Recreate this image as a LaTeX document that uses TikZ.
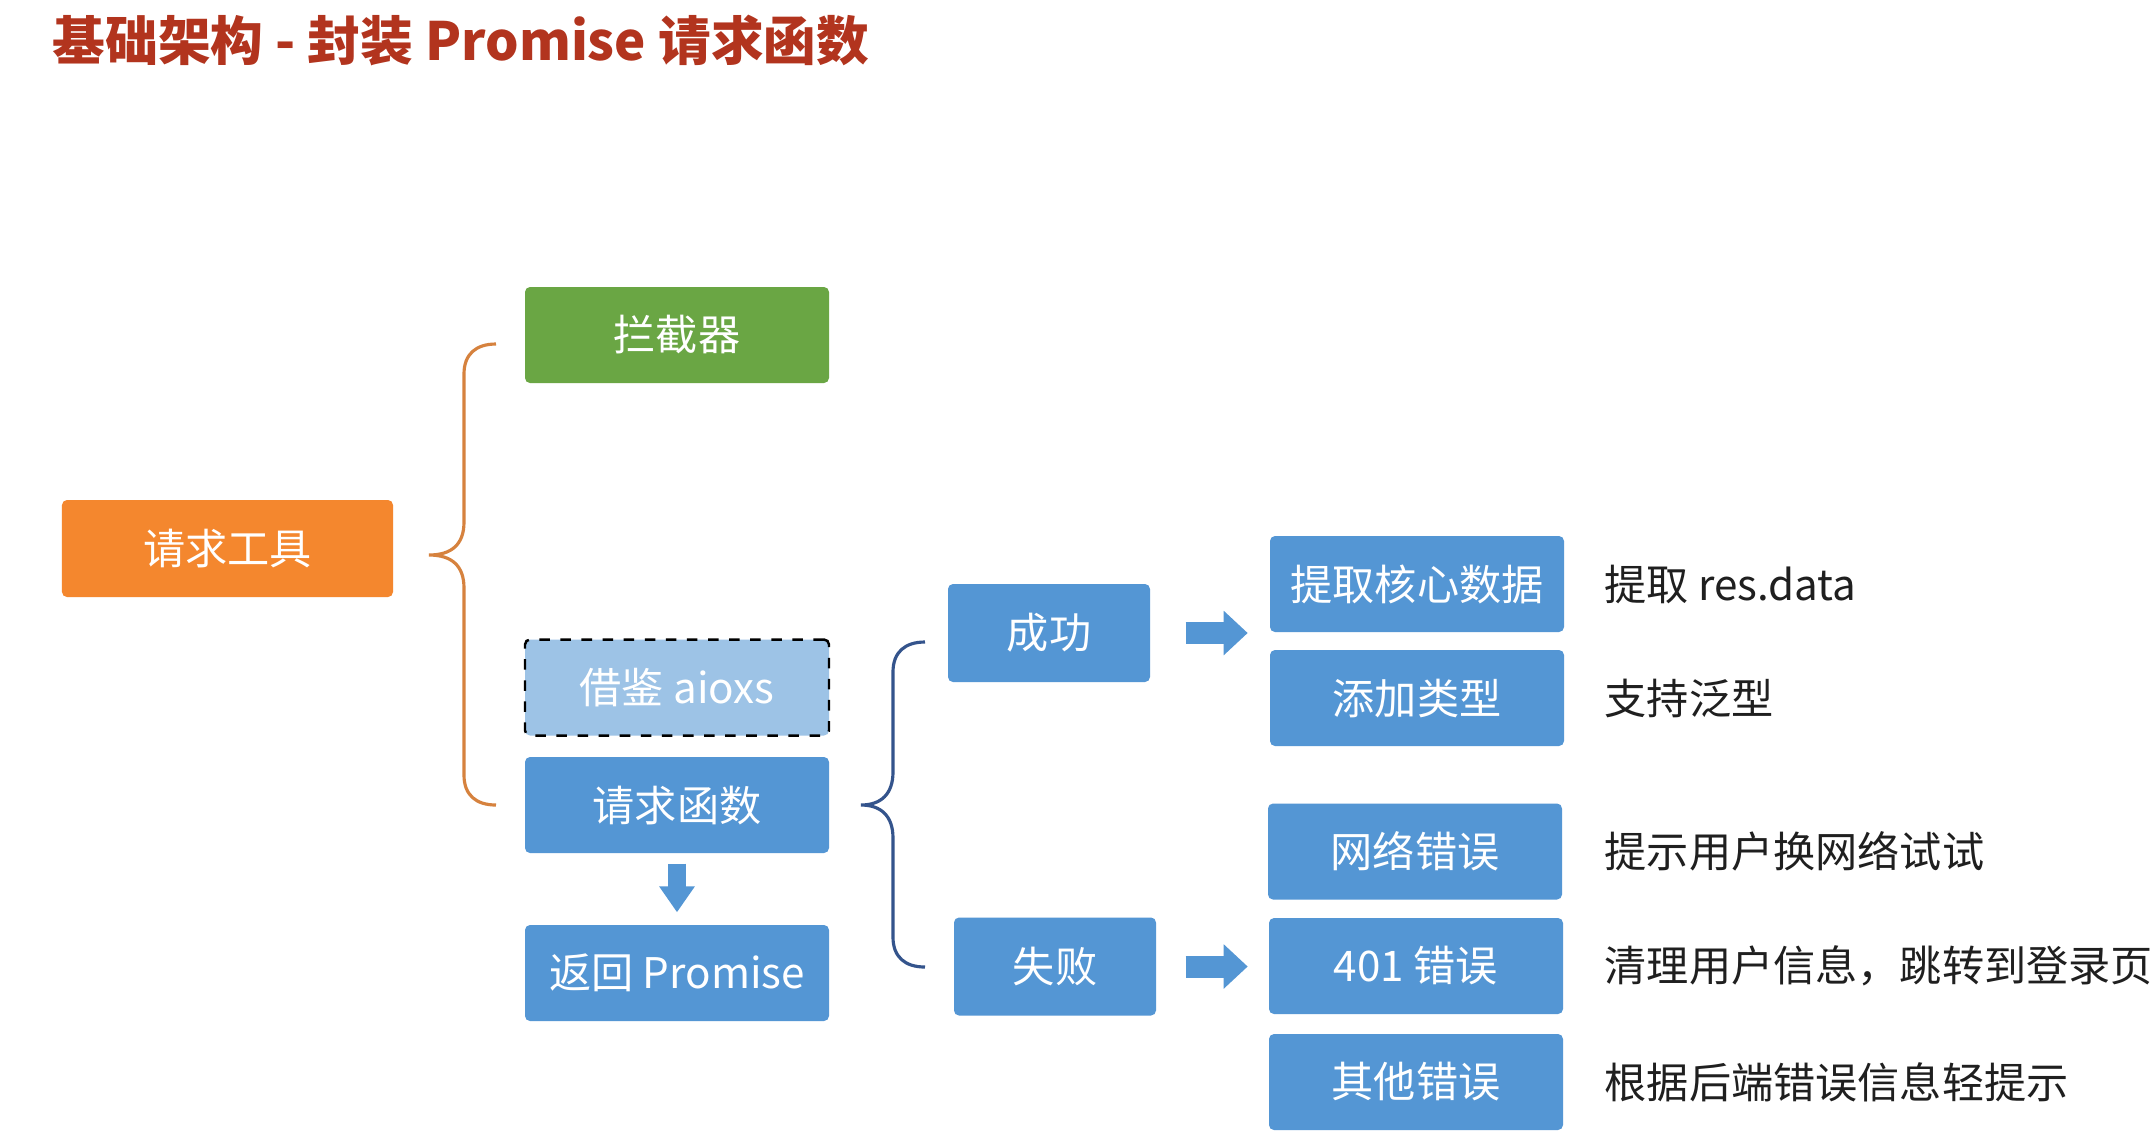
\documentclass[tikz,border=0pt]{standalone}
\usepackage{fontspec}
\setmainfont{Noto Sans CJK SC}
\usetikzlibrary{arrows.meta}
\definecolor{boxblue}{RGB}{84,150,212}
\definecolor{lightblue}{RGB}{157,195,230}
\definecolor{boxgreen}{RGB}{106,166,68}
\definecolor{boxorange}{RGB}{244,135,46}
\definecolor{titlered}{RGB}{178,52,30}
\definecolor{braceorange}{RGB}{214,130,62}
\definecolor{braceblue}{RGB}{52,84,140}
\begin{document}
\begin{tikzpicture}[
  box/.style={rounded corners=0.05cm, text=white, inner sep=0pt, font=\fontsize{12}{14}\selectfont},
  bluebox/.style={box, fill=boxblue},
  wide/.style={minimum width=3.04cm, minimum height=0.96cm},
  short/.style={minimum width=2.02cm, minimum height=0.98cm},
  result/.style={minimum width=2.94cm, minimum height=0.96cm},
  note/.style={anchor=west, inner sep=0pt, text=black!88, font=\fontsize{12}{14}\selectfont},
  fatarrow/.style={boxblue, line width=0.22cm, -{Triangle[length=0.24cm, width=0.43cm]}},
  downarrow/.style={boxblue, line width=0.18cm, -{Triangle[length=0.26cm, width=0.34cm]}}
]
\fill[white] (0,0) rectangle (21.55,-11.33);
\useasboundingbox (0,0) rectangle (21.55,-11.33);

\node[anchor=west, inner sep=0pt, text=titlered, font=\fontsize{15}{18}\selectfont\bfseries] (title) at (0.52,-0.41) {基础架构 - 封装 Promise 请求函数};

\node[box, fill=boxorange, minimum width=3.31cm, minimum height=0.97cm] (tool) at (2.275,-5.485) {请求工具};
\node[box, fill=boxgreen, wide] (icpt) at (6.77,-3.35) {拦截器};
\node[box, fill=lightblue, draw=black, dashed, line width=0.7pt, wide] (ref) at (6.77,-6.875) {借鉴 aioxs};
\node[bluebox, wide] (fn) at (6.77,-8.05) {请求函数};
\node[bluebox, wide] (ret) at (6.77,-9.73) {返回 Promise};

\node[bluebox, short] (ok) at (10.49,-6.33) {成功};
\node[bluebox, short] (fail) at (10.55,-9.665) {失败};

\node[bluebox, result] (core) at (14.17,-5.84) {提取核心数据};
\node[bluebox, result] (type) at (14.17,-6.98) {添加类型};
\node[bluebox, result] (net) at (14.15,-8.515) {网络错误};
\node[bluebox, result] (auth) at (14.16,-9.66) {401 错误};
\node[bluebox, result] (other) at (14.16,-10.82) {其他错误};

\node[note] (coretxt) at (16.04,-5.84) {提取 res.data};
\node[note] (typetxt) at (16.04,-6.98) {支持泛型};
\node[note] (nettxt) at (16.04,-8.515) {提示用户换网络试试};
\node[note] (authtxt) at (16.04,-9.66) {清理用户信息，跳转到登录页};
\node[note] (othertxt) at (16.04,-10.82) {根据后端错误信息轻提示};

\draw[braceorange, line width=0.9pt] (4.96,-3.44) .. controls (4.76,-3.44) and (4.64,-3.54) .. (4.64,-3.74) -- (4.64,-5.22) .. controls (4.64,-5.44) and (4.52,-5.55) .. (4.29,-5.55) .. controls (4.52,-5.55) and (4.64,-5.66) .. (4.64,-5.88) -- (4.64,-7.75) .. controls (4.64,-7.95) and (4.76,-8.05) .. (4.96,-8.05);
\draw[braceblue, line width=0.9pt] (9.25,-6.42) .. controls (9.05,-6.42) and (8.93,-6.52) .. (8.93,-6.72) -- (8.93,-7.72) .. controls (8.93,-7.94) and (8.81,-8.05) .. (8.61,-8.05) .. controls (8.81,-8.05) and (8.93,-8.16) .. (8.93,-8.38) -- (8.93,-9.37) .. controls (8.93,-9.57) and (9.05,-9.67) .. (9.25,-9.67);

\draw[downarrow] ([yshift=-0.10cm]fn.south) -- ([yshift=0.12cm]ret.north);
\draw[fatarrow] ([xshift=0.35cm]ok.east) -- ++(0.62,0);
\draw[fatarrow] ([xshift=0.29cm]fail.east) -- ++(0.62,0);
\end{tikzpicture}
\end{document}
